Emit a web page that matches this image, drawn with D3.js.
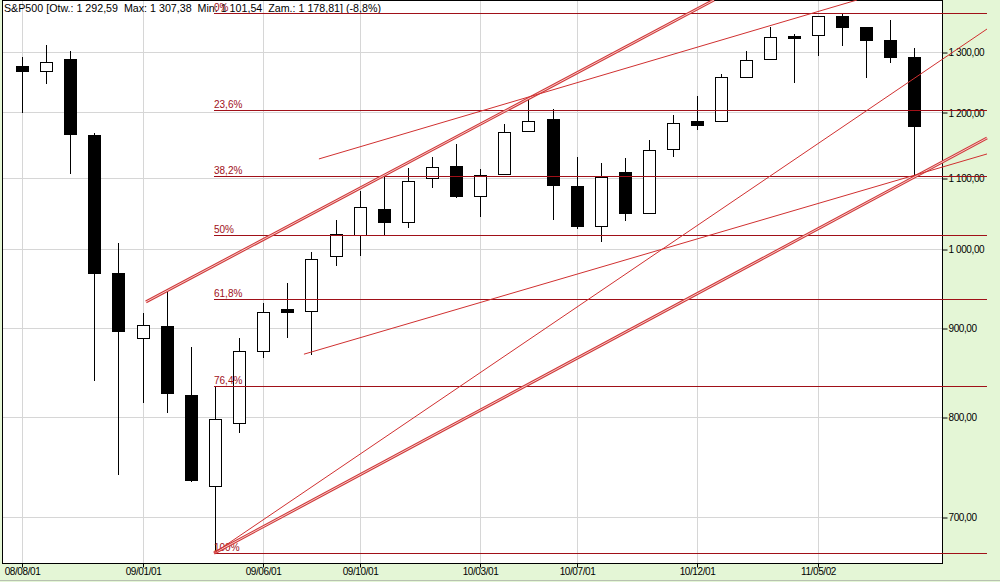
<!DOCTYPE html>
<html>
<head>
<meta charset="utf-8">
<script src="https://cdn.jsdelivr.net/npm/d3@7"></script>
<style>
  body { margin: 0; background: #e4f6d6; }
  svg { display: block; font-family: "Liberation Sans", Arial, sans-serif; }
</style>
</head>
<body>
<div id="chart"></div>
<script>

// monthly candles, S&P500 Jul 2008 .. Aug 2011 (dated by the session that follows the month)
const candleDates = ["08/08/01","08/09/01","08/10/01","08/11/01","08/12/01",
  "09/01/01","09/02/01","09/03/01","09/04/01","09/05/01","09/06/01","09/07/01",
  "09/08/01","09/09/01","09/10/01","09/11/01","09/12/01",
  "10/01/01","10/02/01","10/03/01","10/04/01","10/05/01","10/06/01","10/07/01",
  "10/08/01","10/09/01","10/10/01","10/11/01","10/12/01",
  "11/01/01","11/02/01","11/03/01","11/04/01","11/05/02","11/06/01","11/07/01",
  "11/08/01","11/09/01"]

const open  = [1276.69,1267.23,1287.83,1164.17,968.67,888.61,902.99,823.09,729.57,793.59,
  872.74,923.26,920.82,990.22,1019.52,1054.91,1036.18,1098.89,1116.56,1073.89,
  1105.36,1171.23,1188.58,1087.30,1031.10,1107.53,1049.72,1143.49,1185.71,1186.60,
  1257.62,1289.14,1328.64,1329.48,1365.21,1345.20,1320.64,1292.59]

const high  = [1292.17,1313.15,1303.04,1167.03,1007.51,918.85,943.85,877.86,832.98,888.70,
  930.17,956.23,996.68,1039.47,1080.38,1101.36,1113.69,1130.38,1150.45,1112.42,
  1180.69,1219.80,1205.13,1131.23,1120.95,1129.24,1157.16,1196.14,1227.08,1262.60,
  1302.67,1344.07,1332.28,1364.56,1370.58,1345.20,1356.48,1307.38]

const low   = [1200.44,1247.45,1106.39,839.80,741.02,815.69,804.85,734.52,666.79,783.32,
  866.10,888.86,869.32,978.51,991.97,1019.95,1029.38,1085.89,1071.59,1044.50,
  1105.36,1170.69,1040.78,1028.33,1010.91,1039.70,1049.72,1131.87,1173.00,1186.60,
  1257.62,1289.14,1249.05,1294.70,1311.80,1258.07,1282.86,1101.54]

const close = [1267.38,1282.83,1166.36,968.75,896.24,903.25,825.88,735.09,797.87,872.81,
  919.14,919.32,987.48,1020.62,1057.08,1036.19,1095.63,1115.10,1073.87,1104.49,
  1169.43,1186.69,1089.41,1030.71,1101.60,1049.33,1141.20,1183.26,1180.55,1257.64,
  1286.12,1327.22,1325.83,1363.61,1345.20,1320.64,1292.28,1178.81]

const xTickIdx = [0, 5, 10, 14, 19, 23, 28, 33]
const yTicks = [700, 800, 900, 1000, 1100, 1200, 1300]

const title = "S&P500 [Otw.: 1 292,59  Max: 1 307,38  Min: 1 101,54  Zam.: 1 178,81] (-8,8%)"

// fibonacci retracement: Mar 2009 low -> May 2011 high
const fibLow = 666.79
const fibHigh = 1370.58
const fibRatios = [0, 0.236, 0.382, 0.5, 0.618, 0.764, 1]
const fibLabels = ["0%", "23,6%", "38,2%", "50%", "61,8%", "76,4%", "100%"]
const fibFrom = 7.96, fibTo = 40.01

// trend lines: [candle index, price] -> [candle index, price]
const thinTrends = [
  [[12.31, 1127.7], [34.62, 1393.8]],
  [[7.96, 666.79], [40.01, 1340.9]],
  [[11.69, 869.3], [40.01, 1135.2]]
]
const doubleTrends = [
  [[5.14, 932.1], [28.69, 1393.8]],
  [[7.96, 666.79], [40.01, 1159.6]]
]

const W = 1000, H = 582

const fmt = d3.formatLocale({ decimal: ",", thousands: " ", grouping: [3], currency: ["", ""] }).format(",.2f")

const svg = d3.select("#chart").append("svg")
    .attr("width", W)
    .attr("height", H)

svg.append("rect")
    .attr("width", W).attr("height", H)
    .attr("fill", "#e4f6d6")

svg.append("line")
    .attr("x1", 0).attr("x2", W).attr("y1", 580.5).attr("y2", 580.5)
    .attr("stroke", "#b8c2b0")

svg.append("rect")
    .attr("x", 2.5).attr("y", 0.5)
    .attr("width", 940).attr("height", 563)
    .attr("fill", "#fff")

const x = d3.scaleLinear().domain([0, candleDates.length - 1]).range([22, 914.4])
const y = d3.scaleLog().domain([658.1, 1393.8]).range([563, 0])

const px = v => Math.round(v) + 0.5

// grid
svg.append("g").selectAll("line").data(xTickIdx).join("line")
    .attr("x1", d => px(x(d))).attr("x2", d => px(x(d)))
    .attr("y1", 1).attr("y2", 563)
    .attr("stroke", "#d6d6d6")

svg.append("g").selectAll("line").data(yTicks).join("line")
    .attr("x1", 3).attr("x2", 942)
    .attr("y1", d => px(y(d))).attr("y2", d => px(y(d)))
    .attr("stroke", "#d6d6d6")

svg.append("rect")
    .attr("x", 2.5).attr("y", 0.5)
    .attr("width", 940).attr("height", 563)
    .attr("fill", "none")
    .attr("stroke", "#000")

// axes
const yAxis = svg.append("g")
    .attr("transform", "translate(942.5,0.5)")
    .call(d3.axisRight(y).tickValues(yTicks).tickFormat(fmt).tickSize(5).tickPadding(1))
yAxis.select(".domain").remove()
yAxis.selectAll("line").attr("stroke", "#000").attr("transform", d => `translate(0,${px(y(d)) - 0.5 - y(d)})`)
yAxis.selectAll("text")
    .attr("font-family", "Liberation Sans, Arial, sans-serif")
    .attr("font-size", 10).attr("letter-spacing", -0.4).attr("fill", "#000")

const xAxis = svg.append("g")
    .attr("transform", "translate(0.5,563.5)")
    .call(d3.axisBottom(x).tickValues(xTickIdx).tickFormat(i => candleDates[i]).tickSize(4))
xAxis.select(".domain").remove()
xAxis.selectAll(".tick").attr("transform", d => `translate(${Math.round(x(d))},0)`)
xAxis.selectAll("line").attr("stroke", "#000")
xAxis.selectAll("text")
    .attr("y", 11.5).attr("dy", 0)
    .attr("font-family", "Liberation Sans, Arial, sans-serif")
    .attr("font-size", 10).attr("letter-spacing", -0.4).attr("fill", "#000")

// title
svg.append("text")
    .attr("x", 4).attr("y", 12)
    .attr("font-size", 11)
    .attr("fill", "#000")
    .attr("textLength", 377)
    .attr("lengthAdjust", "spacingAndGlyphs")
    .style("white-space", "pre")
    .text(title)

// candles
const candles = svg.append("g").attr("shape-rendering", "crispEdges")

candleDates.forEach((d, i) => {

    var cx = Math.round(x(i))
    var up = close[i] >= open[i]
    var top = Math.round(y(Math.max(open[i], close[i])))
    var bot = Math.round(y(Math.min(open[i], close[i])))
    if (bot - top < 2) bot = top + 2

    candles.append("line")
        .attr("x1", cx + 0.5).attr("x2", cx + 0.5)
        .attr("y1", Math.round(y(high[i]))).attr("y2", Math.round(y(low[i])) + 1)
        .attr("stroke", "#000")

    if (up) {
        candles.append("rect")
            .attr("x", cx - 5.5).attr("y", top + 0.5)
            .attr("width", 12).attr("height", bot - top)
            .attr("fill", "#fff").attr("stroke", "#000")
    } else {
        candles.append("rect")
            .attr("x", cx - 6).attr("y", top)
            .attr("width", 13).attr("height", bot - top + 1)
            .attr("fill", "#000")
    }
})

// fibonacci levels
const fib = svg.append("g")

fibRatios.forEach((r, i) => {

    var level = fibHigh - r * (fibHigh - fibLow)
    var ly = px(y(level))

    fib.append("line")
        .attr("x1", x(fibFrom)).attr("x2", x(fibTo))
        .attr("y1", ly).attr("y2", ly)
        .attr("stroke", "#a01018")

    fib.append("text")
        .attr("x", x(fibFrom)).attr("y", ly - 2.5)
        .attr("font-size", 10)
        .attr("fill", "#a01018")
        .text(fibLabels[i])
})

// trend lines
const line = d3.line().x(d => x(d[0])).y(d => y(d[1]))

svg.append("g").selectAll("path").data(doubleTrends).join("path")
    .attr("d", line)
    .attr("fill", "none")
    .attr("stroke", "#d03a3a")
    .attr("stroke-width", 3)

svg.append("g").selectAll("path").data(doubleTrends).join("path")
    .attr("d", line)
    .attr("fill", "none")
    .attr("stroke", "#f6c8c8")
    .attr("stroke-width", 1)

svg.append("g").selectAll("path").data(thinTrends).join("path")
    .attr("d", line)
    .attr("fill", "none")
    .attr("stroke", "#d03030")
    .attr("stroke-width", 1)

</script>
</body>
</html>
